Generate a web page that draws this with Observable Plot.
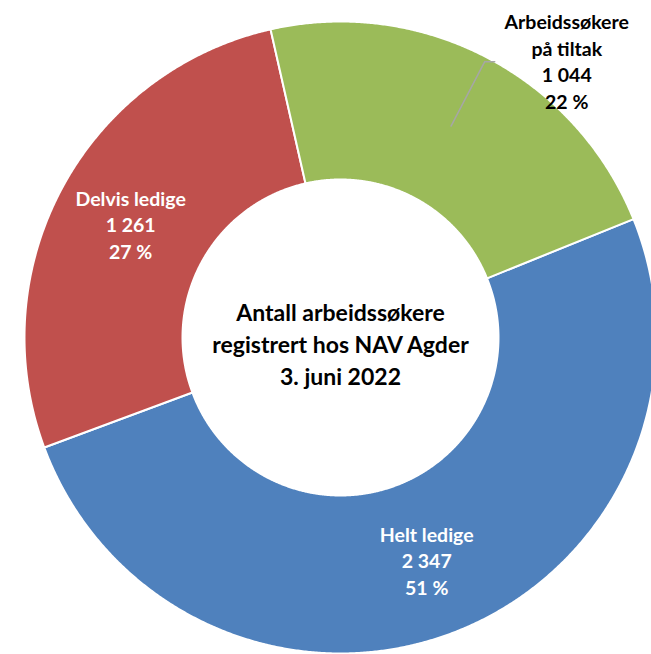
<!DOCTYPE html>
<html><head><meta charset="utf-8">
<script src="https://cdn.jsdelivr.net/npm/d3@7"></script>
<script src="https://cdn.jsdelivr.net/npm/@observablehq/plot@0.6"></script>
<style>html,body{margin:0;padding:0;background:#fff;overflow:hidden}#chart svg{display:block}</style>
</head><body><div id="chart"></div>
<script>
// ---- data ----
const categories = ["Helt ledige", "Delvis ledige", "Arbeidssøkere på tiltak"];
const labelNames = ["Helt ledige", "Delvis ledige", "Arbeidssøkere\npå tiltak"];
const values = [2347, 1261, 1044];
const valueLabels = ["2 347", "1 261", "1 044"];
const percentLabels = ["51 %", "27 %", "22 %"];
const titleLines = ["Antall arbeidssøkere", "registrert hos NAV Agder", "3. juni 2022"];

// ---- style / layout ----
const colors = ["#4F81BD", "#C0504D", "#9BBB59"];
const textColors = ["white", "white", "black"];
const W = 651, H = 654;
const cx = 340, cy = 337, R = 316;       // pixel centre and outer radius
const innerR = 0.5;                       // inner radius relative to outer
const startAngle = 68 * Math.PI / 180;    // clockwise from north
const labelR = 0.755;
const outsideIndex = 2;                   // label placed outside with a leader line

const rows = categories.map((c, i) => ({cat: c, value: values[i], i}));
const arcs = d3.pie().sort(null).value(d => d.value)
  .startAngle(startAngle).endAngle(startAngle + 2 * Math.PI)(rows);

const poly = [];
arcs.forEach(a => {
  const n = Math.max(4, Math.ceil((a.endAngle - a.startAngle) / 0.005));
  for (let k = 0; k <= n; k++) {
    const t = a.startAngle + (a.endAngle - a.startAngle) * k / n;
    poly.push({cat: a.data.cat, x: Math.sin(t), y: Math.cos(t)});
  }
  for (let k = n; k >= 0; k--) {
    const t = a.startAngle + (a.endAngle - a.startAngle) * k / n;
    poly.push({cat: a.data.cat, x: innerR * Math.sin(t), y: innerR * Math.cos(t)});
  }
});

const labels = [];
const leader = [];
arcs.forEach(a => {
  const i = a.data.i;
  const mid = (a.startAngle + a.endAngle) / 2;
  const text = `${labelNames[i]}\n${valueLabels[i]}\n${percentLabels[i]}`;
  if (i === outsideIndex) {
    const p0 = {x: labelR * Math.sin(mid), y: labelR * Math.cos(mid)};
    const p1 = {x: 0.985 * Math.sin(mid), y: 0.985 * Math.cos(mid)};
    const p2 = {x: p1.x + 10 / R, y: p1.y};
    leader.push(p0, p1, p2);
    labels.push({text, x: p2.x + 72 / R, y: p2.y + 1 / R, color: textColors[i]});
  } else {
    labels.push({text, x: labelR * Math.sin(mid), y: labelR * Math.cos(mid), color: textColors[i]});
  }
});

const chart = Plot.plot({
  width: W, height: H,
  margin: 0,
  x: {domain: [-cx / R, (W - cx) / R], axis: null},
  y: {domain: [-(H - cy) / R, cy / R], axis: null},
  color: {domain: categories, range: colors},
  style: {fontFamily: "Lato, 'Open Sans', sans-serif", background: "white"},
  marks: [
    Plot.line(poly, {x: "x", y: "y", z: "cat", fill: "cat", stroke: "white", strokeWidth: 2,
      curve: "linear-closed", strokeLinejoin: "round"}),
    Plot.line(leader, {x: "x", y: "y", stroke: "#a6a6a6", strokeWidth: 1.5}),
    Plot.text(labels, {x: "x", y: "y", text: "text", fill: "color", fontSize: 19.5,
      fontWeight: "bold", lineHeight: 1.36, lineAnchor: "middle"}),
    Plot.text([titleLines.join("\n")], {x: () => 0, y: () => 0, text: d => d, fill: "black",
      fontSize: 23, fontWeight: "bold", lineHeight: 1.39, lineAnchor: "middle", dy: 5})
  ]
});
document.getElementById("chart").appendChild(chart);
</script>
</body></html>
